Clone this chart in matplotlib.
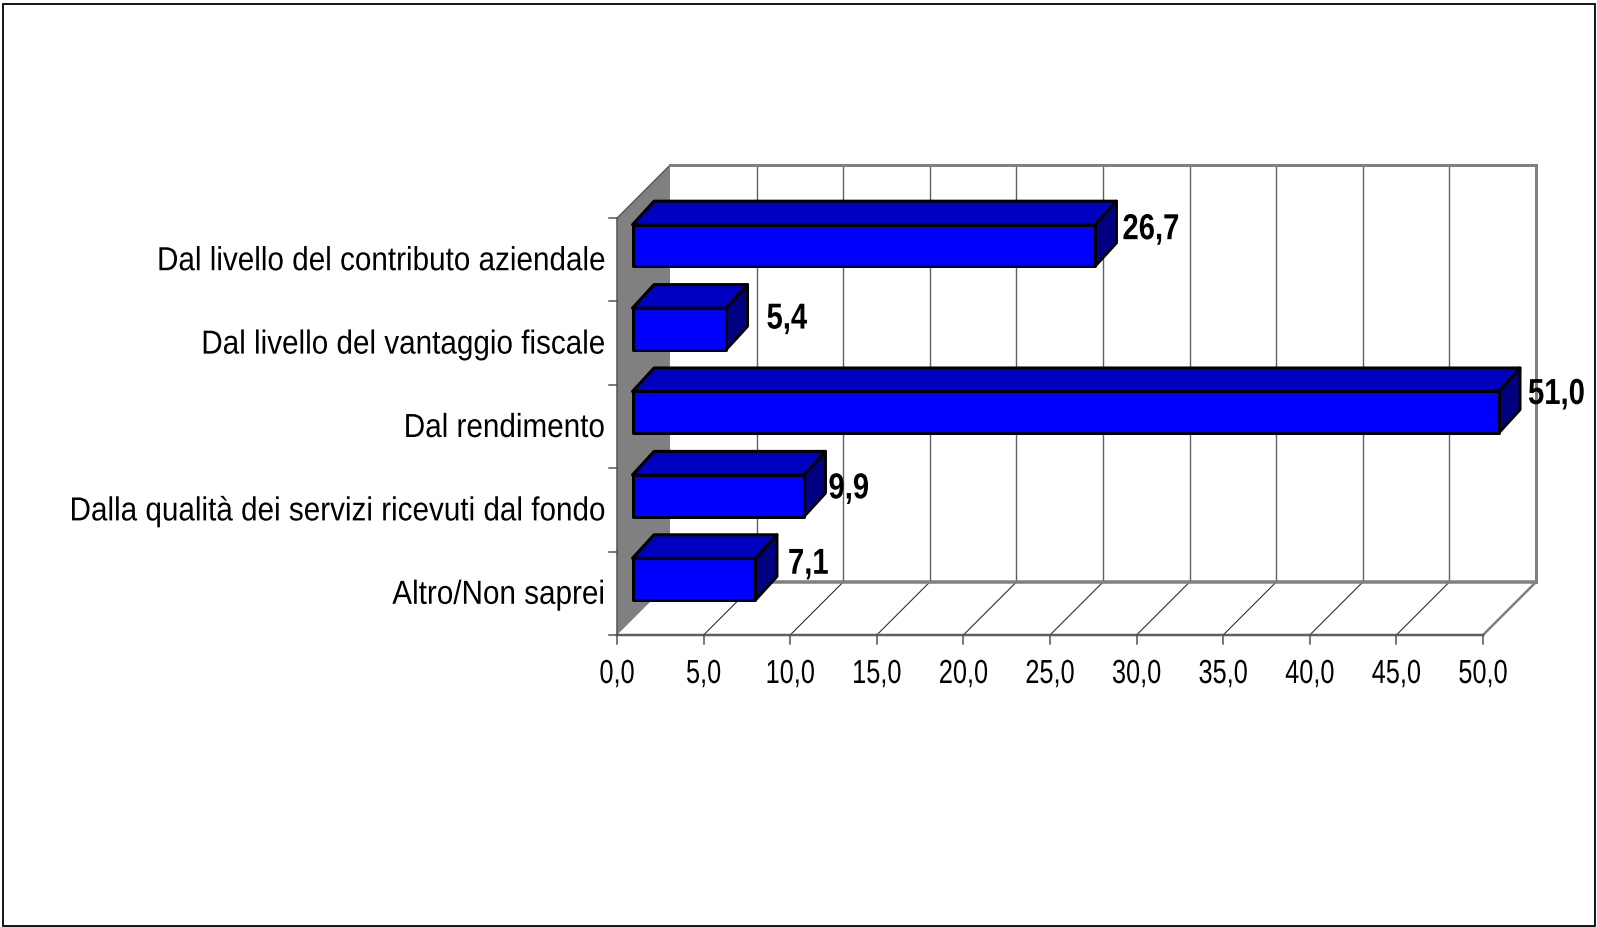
import matplotlib
matplotlib.use("Agg")
import matplotlib.pyplot as plt
import matplotlib.patheffects as pe
from matplotlib.patches import Polygon, Rectangle
from matplotlib.transforms import Affine2D

categories = ["Altro/Non saprei", "Dalla qualità dei servizi ricevuti dal fondo",
              "Dal rendimento", "Dal livello del vantaggio fiscale",
              "Dal livello del contributo aziendale"]
values = [7.1, 9.9, 51.0, 5.4, 26.7]
value_labels = ["7,1", "9,9", "51,0", "5,4", "26,7"]
x_ticks = [0, 5, 10, 15, 20, 25, 30, 35, 40, 45, 50]
x_tick_labels = ["0,0", "5,0", "10,0", "15,0", "20,0", "25,0", "30,0", "35,0", "40,0", "45,0", "50,0"]

W, H = 1597, 928
X0, PXX = 617.0, 17.32      # pixel of value 0, pixels per unit
Y0, PXY = 636.0, 83.4       # pixel of category edge 0, pixels per category
FONT = "Liberation Sans"


class Condense(pe.AbstractPathEffect):
    """Narrow a text horizontally around its anchor, keeping it a text artist."""
    def __init__(self, anchor_x, scale):
        super().__init__()
        self.anchor_x, self.scale = anchor_x, scale

    def draw_path(self, renderer, gc, tpath, affine, rgbFace=None):
        squeeze = Affine2D().translate(-self.anchor_x, 0).scale(self.scale, 1).translate(self.anchor_x, 0)
        renderer.draw_path(gc, tpath, affine + squeeze, rgbFace)


fig = plt.figure(figsize=(W / 100, H / 100), dpi=100)
ax = fig.add_axes([0, 0, 1, 1])
ax.set_xlim(-X0 / PXX, (W - X0) / PXX)
ax.set_ylim((Y0 - H) / PXY, Y0 / PXY)
ax.axis("off")


def narrow_text(x, y, s, scale, **kw):
    anchor = ax.transData.transform((x, y))[0]
    t = ax.text(x, y, s, family=FONT, color="black", va="center", **kw)
    t.set_path_effects([Condense(anchor, scale)])
    return t


n = len(categories)
xmax = x_ticks[-1]
DX, DY = 53 / PXX, 53 / PXY           # wall depth
BX, BY = 21.5 / PXX, 23.5 / PXY       # bar depth
B0 = 15.5 / PXX                        # bar start from the axis
BAR_LO, BAR_H = 0.42, 0.50
GREY = "#808080"
px = 0.72  # one pixel in points

# outer frame
fig.add_artist(Rectangle((2.5 / W, 1.0 / H), (W - 4.5) / W, (H - 5.5) / H, transform=fig.transFigure,
                         fill=False, ec="black", lw=1.8 * px))

# left wall
ax.add_patch(Polygon([(0, 0), (DX, DY), (DX, n + DY), (0, n)], fc=GREY, ec="none", zorder=1))
ax.plot([0, DX], [n, n + DY], color="#404040", lw=1 * px, zorder=1.1)

# back-wall grid and floor lines
for t in x_ticks[1:]:
    ax.plot([t + DX, t + DX], [DY, n + DY], color=GREY if t == xmax else "#606060",
            lw=(3 if t == xmax else 1.4) * px, zorder=1.5)
    ax.plot([t, t + DX], [0, DY], color=GREY if t == xmax else "#303030",
            lw=(2.5 if t == xmax else 1.1) * px, zorder=1.5)
ax.plot([DX, xmax + DX], [n + DY, n + DY], color=GREY, lw=3 * px, zorder=1.6)
ax.plot([DX, xmax + DX], [DY, DY], color=GREY, lw=3.5 * px, zorder=1.6)
ax.plot([0, xmax], [0, 0], color="#606060", lw=2.5 * px, zorder=1.6)
ax.plot([0, 0], [0, n], color="#505050", lw=1.5 * px, zorder=1.6)

# ticks
for t, lab in zip(x_ticks, x_tick_labels):
    ax.plot([t, t], [0, -9 / PXY], color="#505050", lw=1.5 * px, zorder=1.6)
    narrow_text(t, -39.5 / PXY, lab, 0.76, ha="center", fontsize=24)
for i in range(n + 1):
    ax.plot([-8 / PXX, 0], [i, i], color="#505050", lw=1.5 * px, zorder=1.6)

# category labels
for i, c in enumerate(categories):
    narrow_text(-12 / PXX, i + 0.5 - 2 / PXY, c, 0.89, ha="right", fontsize=24)

# 3D bars, clipped at the axis maximum
label_dx = [11, 3, 8, 19, 6]
label_dy = [-8, -16, -5, -13, -7]
for i, v in enumerate(values):
    left, right = B0, min(v, xmax) + B0
    lo, hi = i + BAR_LO, i + BAR_LO + BAR_H
    kw = dict(ec="black", lw=3 * px, joinstyle="round", zorder=3)
    ax.add_patch(Polygon([(left, hi), (left + BX, hi + BY), (right + BX, hi + BY), (right, hi)], fc="#0000C0", **kw))
    ax.add_patch(Polygon([(right, lo), (right + BX, lo + BY), (right + BX, hi + BY), (right, hi)], fc="#000080", **kw))
    ax.add_patch(Rectangle((left, lo), right - left, hi - lo, fc="#0000FF", **kw))
    narrow_text(right + BX + label_dx[i] / PXX, hi + (2 + label_dy[i]) / PXY, value_labels[i], 0.81,
                ha="left", fontsize=26, fontweight="bold", zorder=5)

fig.savefig("out.png", dpi=100, facecolor="white")
